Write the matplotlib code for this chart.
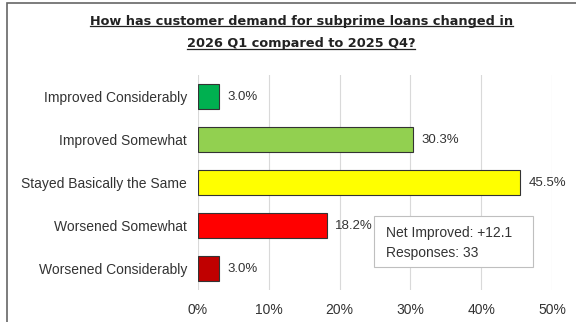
import matplotlib.pyplot as plt
from matplotlib.patches import Rectangle

categories = ["Improved Considerably", "Improved Somewhat", "Stayed Basically the Same",
              "Worsened Somewhat", "Worsened Considerably"]
shares = [3.0, 30.3, 45.5, 18.2, 3.0]
colors = ["#00B050", "#92D050", "#FFFF00", "#FF0000", "#C00000"]
responses = 33
xticks = [0, 10, 20, 30, 40, 50]

net = shares[0] + shares[1] - shares[3] - shares[4]

plt.rcParams['font.family'] = ['Liberation Sans', 'DejaVu Sans']

fig = plt.figure(figsize=(5.76, 3.22), dpi=100)
ax = fig.add_axes([198 / 576, 1 - 290 / 322, 354 / 576, 215 / 322])

ypos = list(range(len(categories)))
ax.barh(ypos, shares, height=0.58, color=colors, edgecolor="#333333", linewidth=0.8, zorder=3)
for y, v in zip(ypos, shares):
    ax.text(v + 1.2, y, f"{v:.1f}%", va="center", ha="left", fontsize=9.5, color="#333333")

ax.set_yticks(ypos)
ax.set_yticklabels(categories, fontsize=10, color="#333333")
ax.set_ylim(len(categories) - 0.5, -0.5)
ax.set_xlim(0, 50)
ax.set_xticks(xticks)
ax.set_xticklabels([f"{t}%" for t in xticks], fontsize=10, color="#333333")
ax.tick_params(length=0)
ax.tick_params(axis="y", pad=8)
ax.tick_params(axis="x", pad=9)
ax.grid(axis="x", color="#d9d9d9", linewidth=0.8, zorder=0)
for s in ax.spines.values():
    s.set_visible(False)

# summary box
ax.add_patch(Rectangle((24.9, 2.78), 22.4, 1.19, facecolor="white", edgecolor="#bfbfbf",
                       linewidth=0.8, zorder=4))
ax.text(26.5, 3.17, f"Net Improved: +{net:.1f}", fontsize=10, color="#333333",
        va="center", ha="left", zorder=5)
ax.text(26.5, 3.64, f"Responses: {responses}", fontsize=10, color="#333333",
        va="center", ha="left", zorder=5)

title_lines = ["How has customer demand for subprime loans changed in",
               "2026 Q1 compared to 2025 Q4?"]
title_y = [1 - 21 / 322, 1 - 44 / 322]
texts = []
for line, y in zip(title_lines, title_y):
    texts.append(fig.text(0.523, y, line, ha="center", va="center", fontsize=9.3,
                          fontweight="bold", color="#222222", family="DejaVu Sans"))

# underline each title line
fig.canvas.draw()
r = fig.canvas.get_renderer()
for t in texts:
    bb = t.get_window_extent(renderer=r)
    yl = (bb.y0 + 1.5) / fig.bbox.height
    fig.add_artist(plt.Line2D([bb.x0 / fig.bbox.width, bb.x1 / fig.bbox.width], [yl, yl],
                              color="#222222", linewidth=0.9))

fig.add_artist(Rectangle((7 / 576, -0.1), 1.2, 1.1 - 3 / 322, transform=fig.transFigure,
                         fill=False, edgecolor="#666666", linewidth=1.2))

fig.savefig("out.png", dpi=100)
